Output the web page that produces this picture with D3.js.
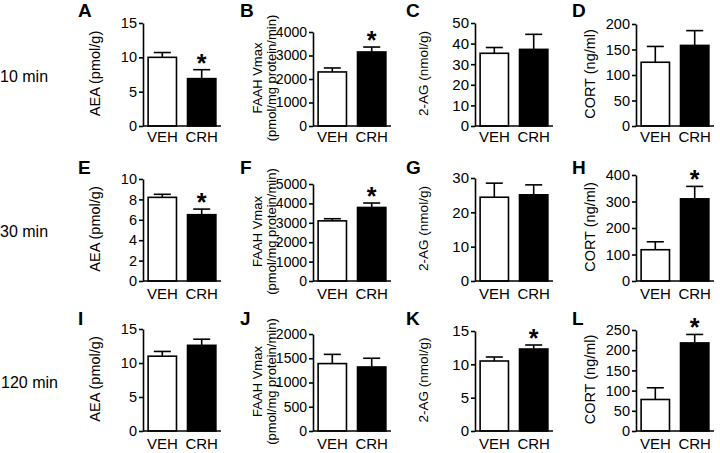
<!DOCTYPE html>
<html>
<head>
<meta charset="utf-8">
<script src="https://cdn.jsdelivr.net/npm/d3@7"></script>
<style>
  body { margin: 0; background: #fff; }
  svg { display: block; font-family: "Liberation Sans", Arial, Helvetica, sans-serif; }
</style>
</head>
<body>
<svg id="chart" width="720" height="453"></svg>
<script>
// ---------- DATA ----------
const groups = ["VEH", "CRH"];
const panelLetters = ["A","B","C","D","E","F","G","H","I","J","K","L"];
const rowLabels = ["10 min", "30 min", "120 min"];
const yLabels = [["AEA (pmol/g)"], ["FAAH Vmax", "(pmol/mg protein/min)"], ["2-AG (nmol/g)"], ["CORT (ng/ml)"]];
const yTicks = [
  [0,5,10,15], [0,1000,2000,3000,4000], [0,10,20,30,40,50], [0,50,100,150,200],
  [0,2,4,6,8,10], [0,1000,2000,3000,4000,5000], [0,10,20,30], [0,100,200,300,400],
  [0,5,10,15], [0,500,1000,1500,2000], [0,5,10,15], [0,50,100,150,200,250]
];
const vehMean = [10.0, 2300, 35.3, 125, 8.2, 3100, 24.4, 118, 11.0, 1390, 10.5, 78];
const vehSem  = [0.7, 170, 2.8, 31, 0.3, 110, 4.1, 30, 0.7, 190, 0.6, 29];
const crhMean = [6.9, 3150, 37.2, 158, 6.5, 3790, 25.1, 310, 12.6, 1320, 12.3, 218];
const crhSem  = [1.3, 210, 7.3, 29, 0.55, 230, 2.9, 47, 0.9, 180, 0.6, 21];
const significant = [true,true,false,false, true,true,false,true, false,false,true,true];

// ---------- LAYOUT ----------
const axisX = [143, 313, 475, 636];
const zeroY = [126, 281, 431];
const topY = [23,32,23,24, 179,184,178,175, 329,334,331,330];
const plotW = 78;
const letterX = [78, 240, 406, 572];
const letterY = [17, 174, 325];
const labelOffX = [[-48], [-56, -42], [-52], [-46]];
const labelSize = [14.5, 13, 13.5, 14.5];
const tickSize = [14.5, 14, 15, 14.5];
const rowLabelY = [82, 237, 388];

const svg = d3.select("#chart");

rowLabels.forEach((t, r) => {
  svg.append("text").attr("x", r === 2 ? 1 : 0).attr("y", rowLabelY[r])
    .attr("font-size", 16).attr("fill", "#000").text(t);
});

for (let i = 0; i < 12; i++) {
  const r = Math.floor(i / 4), c = i % 4;
  const x0 = axisX[c], y0 = zeroY[r], yt = topY[i];
  const ticks = yTicks[i];
  const ymax = ticks[ticks.length - 1];
  const y = d3.scaleLinear().domain([0, ymax]).range([y0, yt]);
  const x = d3.scaleBand().domain(groups).range([0, plotW]).paddingInner(0.28).paddingOuter(0.13);

  const g = svg.append("g").attr("transform", `translate(${x0},0)`);

  // panel letter
  svg.append("text").attr("x", letterX[c]).attr("y", letterY[r])
    .attr("font-size", 19).attr("font-weight", "bold").text(panelLetters[i]);

  // y label
  const lines = yLabels[c];
  const yc = (y0 + yt) / 2 - 1;
  lines.forEach((ln, k) => {
    const lx = x0 + labelOffX[c][k];
    svg.append("text")
      .attr("transform", `translate(${lx},${yc}) rotate(-90)`)
      .attr("text-anchor", "middle").attr("dy", "0.35em")
      .attr("font-size", labelSize[c]).text(ln);
  });

  const means = [vehMean[i], crhMean[i]];
  const sems = [vehSem[i], crhSem[i]];
  const capW = x.bandwidth() * 0.6;

  // error bars (drawn first so the bars cover the lower part)
  groups.forEach((gname, k) => {
    const cx = x(gname) + x.bandwidth() / 2;
    g.append("line").attr("x1", cx).attr("x2", cx)
      .attr("y1", y(means[k])).attr("y2", y(means[k] + sems[k]))
      .attr("stroke", "#000").attr("stroke-width", 1.6);
    g.append("line").attr("x1", cx - capW / 2).attr("x2", cx + capW / 2)
      .attr("y1", y(means[k] + sems[k])).attr("y2", y(means[k] + sems[k]))
      .attr("stroke", "#000").attr("stroke-width", 1.6);
  });

  // bars
  g.selectAll("rect.bar").data(groups).join("rect").attr("class", "bar")
    .attr("x", d => x(d)).attr("width", x.bandwidth())
    .attr("y", (d, k) => y(means[k])).attr("height", (d, k) => y0 - y(means[k]))
    .attr("fill", (d, k) => k === 0 ? "#fff" : "#000")
    .attr("stroke", "#000").attr("stroke-width", 1.6);

  // significance star
  if (significant[i]) {
    const cx = x("CRH") + x.bandwidth() / 2;
    g.append("text").attr("x", cx).attr("y", y(crhMean[i] + crhSem[i]) + 2)
      .attr("text-anchor", "middle").attr("font-size", 25).attr("font-weight", "bold").text("*");
  }

  // y axis
  const ya = g.append("g").call(d3.axisLeft(y).tickValues(ticks).tickFormat(d3.format("d"))
    .tickSize(4).tickSizeOuter(0).tickPadding(2));
  ya.select(".domain").attr("stroke-width", 1.6);
  ya.selectAll(".tick line").attr("stroke-width", 1.6);
  ya.selectAll(".tick text").attr("font-size", tickSize[c]).attr("font-family", null).attr("fill", "#000");

  // x axis
  const xa = g.append("g").attr("transform", `translate(0,${y0})`)
    .call(d3.axisBottom(x).tickSize(0).tickSizeOuter(0).tickPadding(5));
  xa.select(".domain").attr("stroke-width", 1.6).attr("d", `M0,0H${plotW}`);
  xa.selectAll(".tick text").attr("font-size", 15).attr("font-family", null).attr("fill", "#000")
    .attr("dy", r === 0 ? "0.72em" : "0.85em");
}
</script>
</body>
</html>
